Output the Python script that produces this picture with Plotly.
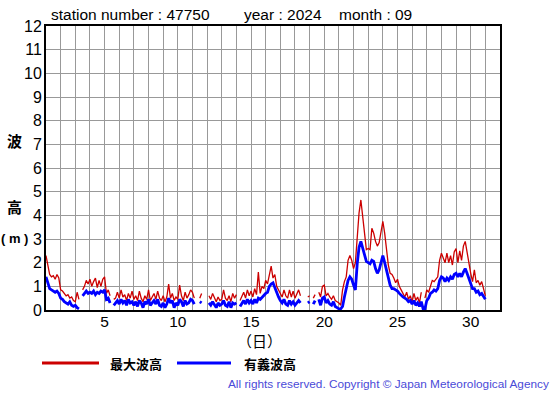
import plotly.graph_objects as go

# 3-hourly values, day 1 00h .. day 31 00h (8 per day)
max_wave = [
    2.3, 1.8, 1.5, 1.4, 1.45, 1.3, 1.5, 1.35,      # 1
    0.85, 0.8, 0.7, 0.6, 0.65, 0.5, 0.55, 0.4,     # 2
    0.35, 0.75, 0.45, None, 0.85, 1.0, 1.25, 1.1,  # 3
    1.3, 1.0, 1.2, 1.35, 0.95, 1.25, 1.0, 1.3,     # 4
    1.4, 0.7, 0.85, 0.6, None, 0.45, 0.5, 0.75,    # 5
    0.5, 0.85, 0.55, 0.65, 0.4, 0.7, 0.5, 0.8,     # 6
    0.45, 0.6, 0.4, 0.8, 0.5, 0.35, 0.6, 0.45,     # 7
    0.85, 0.4, 0.55, 0.7, 0.45, 0.8, 0.5, 0.4,     # 8
    0.6, 0.35, 0.55, 1.1, 0.5, 0.7, 0.4, 0.55,     # 9
    0.45, 1.05, 0.6, 0.4, 0.75, 0.5, 0.65, 0.85,   # 10
    0.75, 0.5, None, None, 0.5, 0.7, None, None,   # 11
    None, 0.6, 0.45, 0.7, 0.5, 0.35, 0.55, 0.4,    # 12
    0.45, 0.85, 0.5, 0.4, 0.6, 0.35, 0.7, 0.5,     # 13
    0.65, None, 0.4, 0.55, 0.75, 0.5, 0.85, 0.6,   # 14
    0.8, 0.55, 0.9, 0.65, 1.6, 0.7, 1.0, 0.9,      # 15
    1.25, 1.1, 1.5, 1.85, 1.35, 1.5, 1.0, 0.85,    # 16
    0.7, 0.55, 0.85, 0.6, 0.5, 0.85, 0.55, 0.8,    # 17
    0.5, 0.65, 0.85, 0.6, None, 0.6, None, 0.55,   # 18
    0.6, None, 0.5, 0.65, None, 0.75, 0.55, 1.0,   # 19
    1.05, 0.6, 0.7, 0.55, 0.45, 0.6, 0.4, 0.35,    # 20
    0.3, 0.2, 0.85, 1.2, 1.4, 2.1, 2.3, 2.1,       # 21
    1.75, 2.0, 3.1, 4.1, 4.65, 3.9, 3.4, 2.55,     # 22
    2.6, 2.55, 3.45, 3.25, 2.9, 2.7, 2.85, 3.25,   # 23
    3.75, 3.25, 2.6, 1.9, 1.55, 1.5, 1.35, 1.15,   # 24
    1.3, 1.0, 0.85, 0.7, 0.55, 0.75, 0.45, 0.6,    # 25
    0.35, 0.7, 0.4, 0.55, 0.3, 0.75, None, 0.5,    # 26
    0.85, 0.75, 1.0, 1.25, 1.2, 1.3, 1.4, 2.1,     # 27
    2.4, 2.2, 2.0, 2.4, 2.0, 2.3, 1.9, 2.45,       # 28
    2.6, 2.0, 2.5, 2.1, 2.7, 2.9, 2.4, 2.0,        # 29
    1.55, 1.2, 1.7, 1.15, 1.25, 1.05, 1.2, 0.9,    # 30
    0.6,                                           # 31
]

sig_wave = [
    1.4, 1.15, 0.9, 0.85, 0.8, 0.75, 0.8, 0.7,     # 1
    0.5, 0.45, 0.35, 0.3, 0.25, 0.35, 0.2, 0.15,   # 2
    0.2, 0.1, 0.05, None, 0.6, 0.7, 0.8, 0.7,      # 3
    0.75, 0.7, 0.8, 0.65, 0.75, 0.7, 0.8, 0.75,    # 4
    0.85, 0.45, 0.5, 0.3, None, 0.2, 0.3, 0.4,     # 5
    0.25, 0.45, 0.3, 0.4, 0.2, 0.45, 0.3, 0.35,    # 6
    0.2, 0.35, 0.15, 0.4, 0.3, 0.1, 0.35, 0.25,    # 7
    0.45, 0.2, 0.3, 0.4, 0.25, 0.45, 0.2, 0.15,    # 8
    0.3, 0.1, 0.25, 0.5, 0.3, 0.4, 0.1, 0.3,       # 9
    0.2, 0.45, 0.35, 0.15, 0.4, 0.25, 0.3, 0.45,   # 10
    0.4, 0.25, None, None, 0.35, 0.3, None, None,  # 11
    None, 0.3, 0.2, 0.35, 0.25, 0.1, 0.3, 0.2,     # 12
    0.25, 0.4, 0.2, 0.15, 0.35, 0.1, 0.3, 0.25,    # 13
    0.3, None, 0.15, 0.3, 0.4, 0.25, 0.45, 0.3,    # 14
    0.4, 0.25, 0.45, 0.3, 0.5, 0.45, 0.55, 0.6,    # 15
    0.7, 0.75, 1.0, 1.1, 1.15, 0.95, 0.7, 0.55,    # 16
    0.4, 0.3, 0.45, 0.25, 0.2, 0.4, 0.25, 0.35,    # 17
    0.2, 0.3, 0.4, 0.3, None, 0.35, None, 0.3,     # 18
    0.35, None, 0.25, 0.4, None, 0.45, 0.2, 0.5,   # 19
    0.55, 0.3, 0.4, 0.25, 0.2, 0.35, 0.15, 0.1,    # 20
    0.05, 0.05, 0.15, 0.55, 0.85, 1.25, 1.4, 1.3,  # 21
    1.05, 0.85, 1.95, 2.65, 2.9, 2.6, 2.25, 2.05,  # 22
    2.0, 1.95, 2.1, 2.05, 1.75, 1.55, 1.7, 2.05,   # 23
    2.3, 2.0, 1.7, 1.3, 1.05, 0.9, 0.9, 0.85,      # 24
    0.8, 0.7, 0.6, 0.55, 0.5, 0.45, 0.35, 0.4,     # 25
    0.25, 0.4, 0.2, 0.3, 0.15, 0.35, 0.05, 0.05,   # 26
    0.4, 0.5, 0.7, 0.75, 0.85, 0.8, 0.9, 1.25,     # 27
    1.4, 1.35, 1.2, 1.35, 1.25, 1.4, 1.3, 1.5,     # 28
    1.55, 1.4, 1.55, 1.4, 1.6, 1.75, 1.55, 1.3,    # 29
    1.05, 0.9, 0.9, 0.75, 0.8, 0.65, 0.7, 0.55,    # 30
    0.45,                                          # 31
]

x_tick_labels = ["5", "10", "15", "20", "25", "30"]
x_tick_days = [5, 10, 15, 20, 25, 30]
y_ticks = list(range(0, 13))

times = [1 + i / 8 for i in range(len(max_wave))]

W, H = 555, 395
L, R, T, B = 46, 500, 26, 310

def px(x):
    return (x - L) / (R - L)

def py(y):
    return (B - y) / (B - T)

FONT = "Liberation Sans, Arial, sans-serif"
JFONT = "Noto Sans CJK JP, sans-serif"

fig = go.Figure()
fig.add_trace(go.Scatter(x=times, y=max_wave, mode="lines",
                         line=dict(color="#cc0000", width=1.3), showlegend=False))
fig.add_trace(go.Scatter(x=times, y=sig_wave, mode="lines",
                         line=dict(color="#0000ff", width=2.8), showlegend=False))

xvals = list(range(1, 33))
xtext = [x_tick_labels[x_tick_days.index(v)] if v in x_tick_days else "" for v in xvals]

fig.update_layout(
    width=W, height=H,
    margin=dict(l=L, r=W - R, t=T, b=H - B),
    paper_bgcolor="white", plot_bgcolor="white",
    font=dict(family=FONT, color="black"),
    xaxis=dict(range=[1, 32], tickmode="array", tickvals=xvals, ticktext=xtext,
               showgrid=True, gridcolor="#999999", gridwidth=1,
               showline=True, linecolor="black", linewidth=2, mirror=True,
               ticks="", tickfont=dict(size=15.5, family=FONT, color="black"),
               ticklabelstandoff=-4,
               zeroline=False, fixedrange=True),
    yaxis=dict(range=[0, 12], tickmode="array", tickvals=y_ticks,
               ticktext=[str(v) for v in y_ticks],
               showgrid=True, gridcolor="#999999", gridwidth=1,
               showline=True, linecolor="black", linewidth=2, mirror=True,
               ticks="", tickfont=dict(size=16, family=FONT, color="black"),
               ticklabelstandoff=-1,
               zeroline=False, fixedrange=True),
)

ann = []
def text(x, y, s, size=14, xanchor="left", color="black", family=FONT):
    ann.append(dict(x=px(x), y=py(y), xref="paper", yref="paper", text=s,
                    showarrow=False, xanchor=xanchor, yanchor="middle",
                    font=dict(size=size, color=color, family=family)))

text(49, 15, "station number : 47750", 15.5)
text(242, 15, "year : 2024", 15.5)
text(337, 15, "month : 09", 15.5)
text(14, 140, "<b>波</b>", 15, xanchor="center", family=JFONT)
text(14, 206, "<b>高</b>", 15, xanchor="center", family=JFONT)
text(14, 238, "<b>( m )</b>", 13, xanchor="center")
text(259, 340, "（日）", 15, xanchor="center", family=JFONT)
text(108, 363, "<b>最大波高</b>", 13, family=JFONT)
text(242, 363, "<b>有義波高</b>", 13, family=JFONT)
text(551, 384, "All rights reserved. Copyright © Japan Meteorological Agency", 11.8,
     xanchor="right", color="#4a4ad8")
fig.update_layout(annotations=ann)

fig.add_shape(type="line", xref="paper", yref="paper", x0=px(42), x1=px(99),
              y0=py(363), y1=py(363), line=dict(color="#cc0000", width=3))
fig.add_shape(type="line", xref="paper", yref="paper", x0=px(177), x1=px(231),
              y0=py(363), y1=py(363), line=dict(color="#0000ff", width=3))

fig.write_html("out.html", config={"displayModeBar": False},
               post_script="document.body.style.margin='0';document.body.style.overflow='hidden';")
